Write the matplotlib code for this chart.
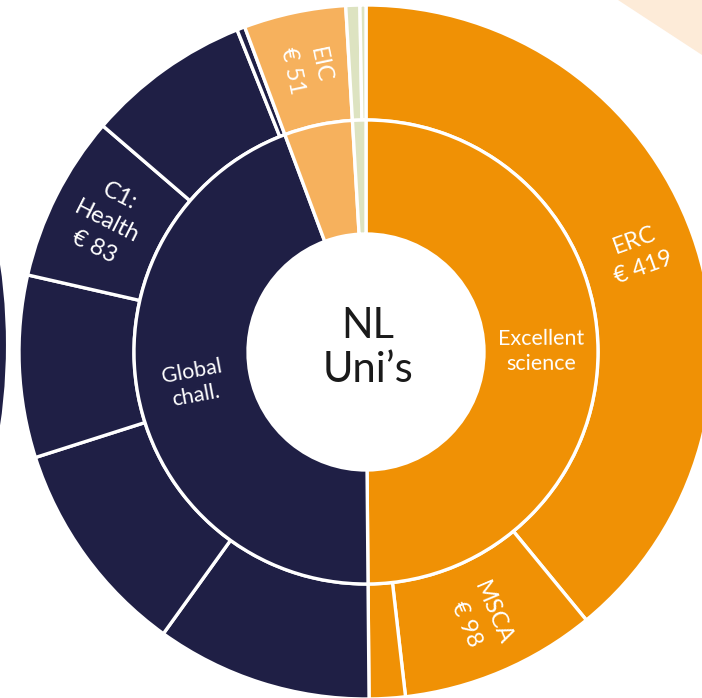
import numpy as np
import matplotlib
matplotlib.use("Agg")
import matplotlib.pyplot as plt
from matplotlib.patches import Circle, Polygon

plt.rcParams['font.family'] = ['Lato', 'DejaVu Sans']

# ---- data ----
inner_labels = ["Excellent\nscience", "Global\nchall.", "", ""]
inner_values = [535, 477, 51, 10]
inner_colors = ["#F09105", "#1F1F45", "#F6B15D", "#DDE3C1"]

outer_labels = ["ERC\n€ 419", "MSCA\n€ 98", "",
                "", "", "", "C1:\nHealth\n€ 83", "", "",
                "EIC\n€ 51", "", ""]
outer_values = [419, 98, 18,
                108, 109, 91, 83, 82, 4,
                51, 7, 3]
outer_colors = ["#F09105"] * 3 + ["#1F1F45"] * 6 + ["#F6B15D"] + ["#DDE3C1"] * 2

center_text = "NL\nUni’s"

W, H = 702, 698
fig = plt.figure(figsize=(W / 100, H / 100), dpi=100)
ax = fig.add_axes([0, 0, 1, 1])
ax.set_xlim(0, W)
ax.set_ylim(0, H)
ax.set_aspect('equal')
ax.axis('off')

cx, cy = 366, H - 352
R_out, R_mid, R_in = 347, 232, 118

# decorative fragments of neighbouring charts
ax.add_patch(Polygon([(618, H), (W, H), (W, H - 55)], closed=True,
                     facecolor="#FDEBD8", edgecolor="none"))
ax.add_patch(Circle((-549.6, H - 345), 556.6, facecolor="#1F1F45",
                    edgecolor="white", linewidth=1.5))

wedge_kw = dict(edgecolor="white", linewidth=2.4)
ow, _ = ax.pie(outer_values, colors=outer_colors, radius=R_out, center=(cx, cy),
               startangle=90, counterclock=False,
               wedgeprops=dict(width=R_out - R_mid, **wedge_kw))
iw, _ = ax.pie(inner_values, colors=inner_colors, radius=R_mid, center=(cx, cy),
               startangle=90, counterclock=False,
               wedgeprops=dict(width=R_mid - R_in, **wedge_kw))
ax.set_xlim(0, W)
ax.set_ylim(0, H)


def place(wedges, labels, r, size, ls):
    for w, lab in zip(wedges, labels):
        if not lab:
            continue
        a = (w.theta1 + w.theta2) / 2.0
        x = cx + r * np.cos(np.radians(a))
        y = cy + r * np.sin(np.radians(a))
        rot = ((a + 90) % 180) - 90
        ax.text(x, y, lab, ha='center', va='center', rotation=rot,
                rotation_mode='anchor', color='white', fontsize=size,
                linespacing=ls)


place(ow, outer_labels, 290, 17, 1.45)
place(iw, inner_labels, 175, 15.5, 1.3)

ax.text(cx + 2, cy + 4, center_text, ha='center', va='center', fontsize=30,
        color='#1a1a1a', linespacing=1.2)

fig.savefig("out.png", dpi=100)
